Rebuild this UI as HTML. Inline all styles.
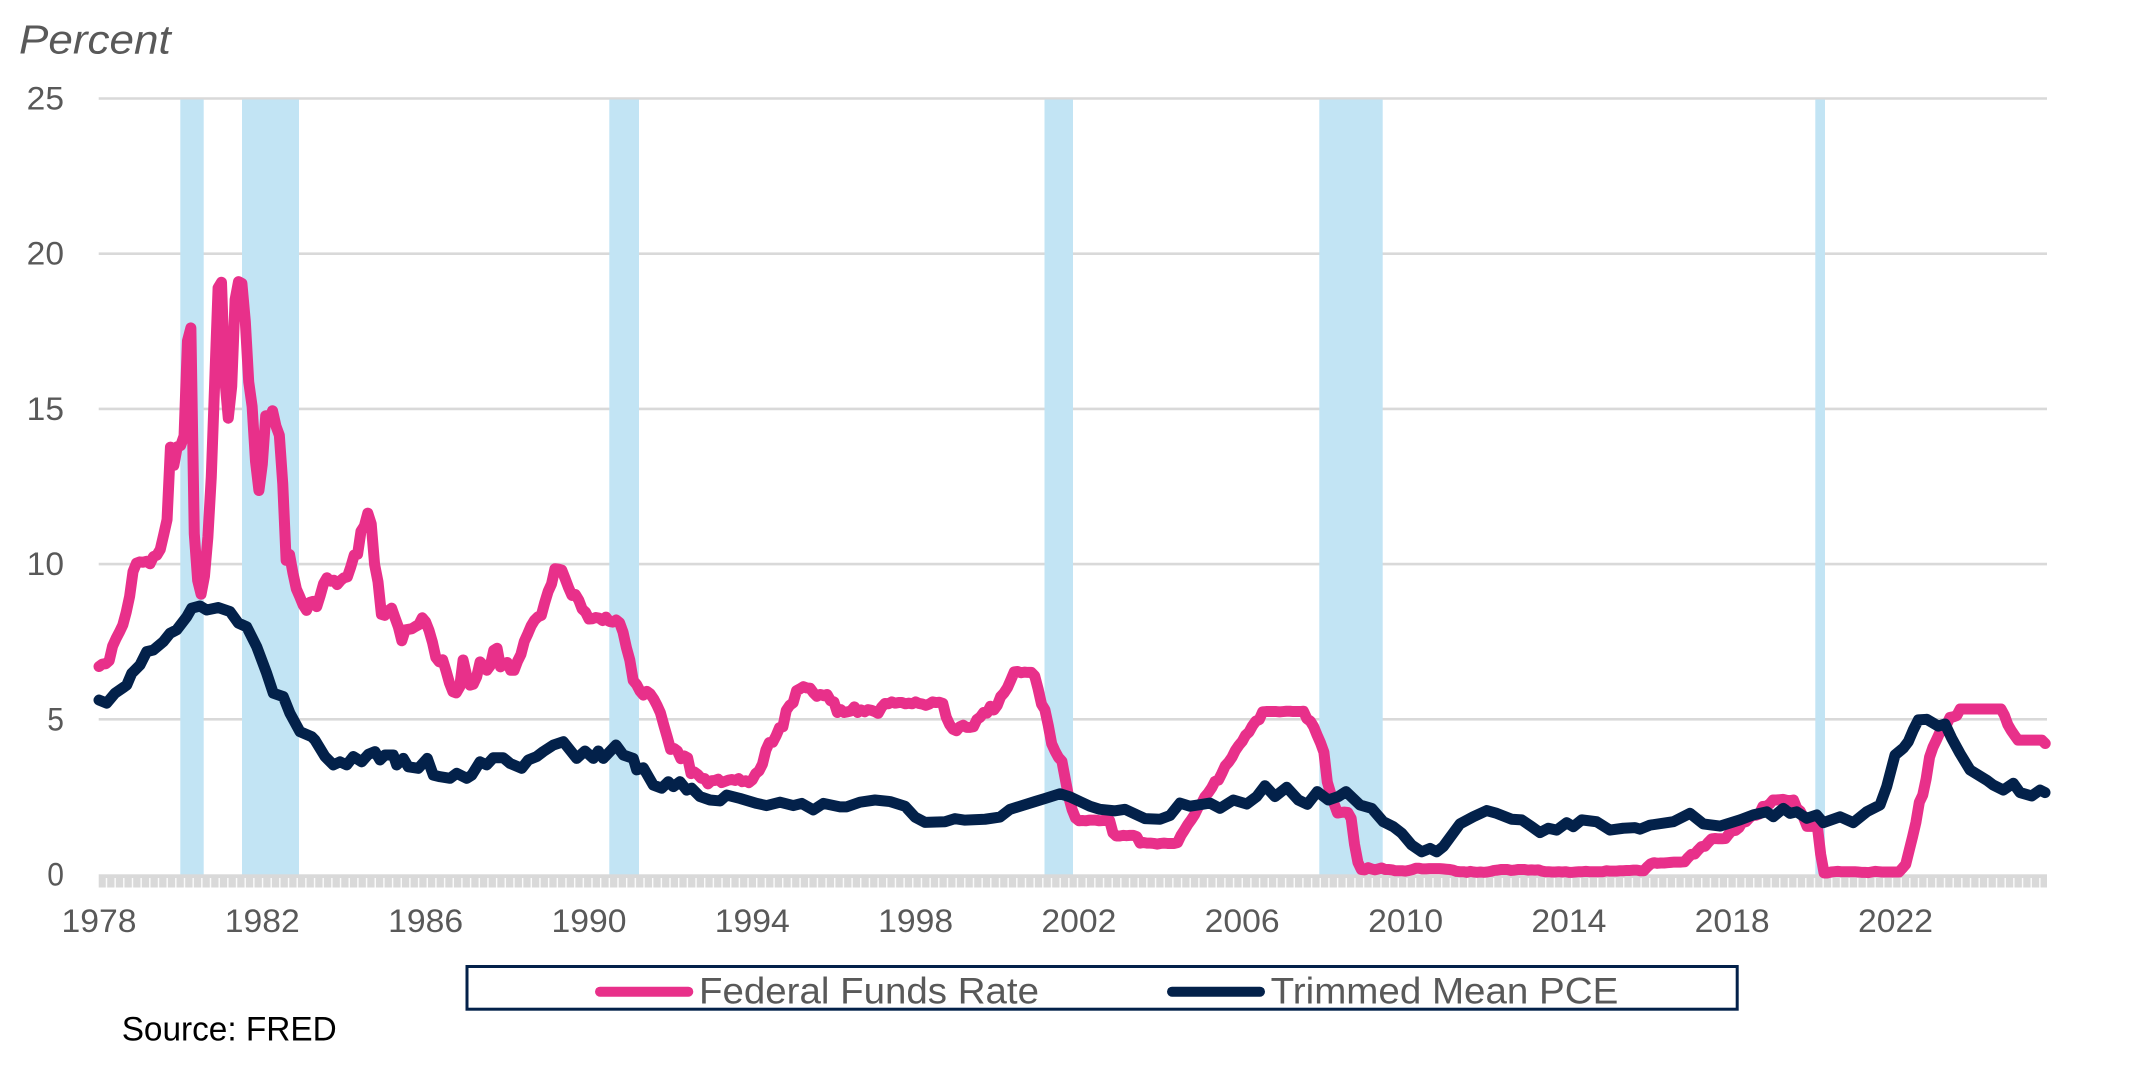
<!DOCTYPE html>
<html><head><meta charset="utf-8"><style>
html,body{margin:0;padding:0;background:#fff;}
svg{display:block;}
text{font-family:"Liberation Sans",Arial,sans-serif;}
</style></head><body>
<svg id="chart" width="2147" height="1084" viewBox="0 0 2147 1084" xmlns="http://www.w3.org/2000/svg">
<defs>
<pattern id="tk" x="97.1" y="0" width="8.67" height="40" patternUnits="userSpaceOnUse"><rect x="0" y="0" width="1.4" height="40" fill="#ffffff" fill-opacity="0.9"/></pattern>
</defs>
<rect width="2147" height="1084" fill="#fff"/>
<g stroke="#d9d9d9" stroke-width="2.6">
<line x1="98.7" y1="98.5" x2="2047" y2="98.5"/>
<line x1="98.7" y1="253.7" x2="2047" y2="253.7"/>
<line x1="98.7" y1="408.9" x2="2047" y2="408.9"/>
<line x1="98.7" y1="564.1" x2="2047" y2="564.1"/>
<line x1="98.7" y1="719.3" x2="2047" y2="719.3"/>
</g>
<g fill="#c2e4f4">
<rect x="180.3" y="99.5" width="23.4" height="775"/>
<rect x="242" y="99.5" width="57" height="775"/>
<rect x="609.3" y="99.5" width="29.7" height="775"/>
<rect x="1044.5" y="99.5" width="28.5" height="775"/>
<rect x="1319.3" y="99.5" width="63.4" height="775"/>
<rect x="1815.3" y="99.5" width="9.7" height="775"/>
</g>
<rect x="98.7" y="874.3" width="1948.3" height="13.2" fill="#d9d9d9"/>
<rect x="98.7" y="878" width="1948.3" height="9.5" fill="url(#tk)"/>
<g fill="#595959" font-size="32.5" text-anchor="end">
<text x="64" y="109.5" textLength="37.3" lengthAdjust="spacingAndGlyphs">25</text>
<text x="64" y="264.7" textLength="37.3" lengthAdjust="spacingAndGlyphs">20</text>
<text x="64" y="419.9" textLength="37.3" lengthAdjust="spacingAndGlyphs">15</text>
<text x="64" y="575.1" textLength="37.3" lengthAdjust="spacingAndGlyphs">10</text>
<text x="64" y="730.3" textLength="16.7" lengthAdjust="spacingAndGlyphs">5</text>
<text x="64" y="885.5" textLength="16.7" lengthAdjust="spacingAndGlyphs">0</text>
</g>
<g fill="#595959" font-size="32" text-anchor="middle">
<text x="99" y="932" textLength="75" lengthAdjust="spacingAndGlyphs">1978</text>
<text x="262.3" y="932" textLength="75" lengthAdjust="spacingAndGlyphs">1982</text>
<text x="425.6" y="932" textLength="75" lengthAdjust="spacingAndGlyphs">1986</text>
<text x="589" y="932" textLength="75" lengthAdjust="spacingAndGlyphs">1990</text>
<text x="752.3" y="932" textLength="75" lengthAdjust="spacingAndGlyphs">1994</text>
<text x="915.6" y="932" textLength="75" lengthAdjust="spacingAndGlyphs">1998</text>
<text x="1078.9" y="932" textLength="75" lengthAdjust="spacingAndGlyphs">2002</text>
<text x="1242.2" y="932" textLength="75" lengthAdjust="spacingAndGlyphs">2006</text>
<text x="1405.6" y="932" textLength="75" lengthAdjust="spacingAndGlyphs">2010</text>
<text x="1568.9" y="932" textLength="75" lengthAdjust="spacingAndGlyphs">2014</text>
<text x="1732.2" y="932" textLength="75" lengthAdjust="spacingAndGlyphs">2018</text>
<text x="1895.5" y="932" textLength="75" lengthAdjust="spacingAndGlyphs">2022</text>
</g>
<text x="19" y="53.5" fill="#595959" font-size="41" font-style="italic" textLength="151.7" lengthAdjust="spacingAndGlyphs">Percent</text>
<g transform="matrix(3.4025 0 0 -31.04 99 874.5)">
<polyline class="ser" fill="none" stroke="#e8308a" stroke-width="11" stroke-linejoin="round" stroke-linecap="round" vector-effect="non-scaling-stroke" points="0,6.70 1,6.78 2,6.79 3,6.89 4,7.36 5,7.60 6,7.81 7,8.04 8,8.45 9,8.96 10,9.76 11,10.03 12,10.07 13,10.06 14,10.09 15,10.01 16,10.24 17,10.29 18,10.47 19,10.94 20,11.43 21,13.77 22,13.18 23,13.78 24,13.82 25,14.13 26,17.19 27,17.61 28,10.98 29,9.47 30,9.03 31,9.61 32,10.87 33,12.81 34,15.85 35,18.90 36,19.08 37,15.93 38,14.70 39,15.72 40,18.52 41,19.10 42,19.04 43,17.82 44,15.87 45,15.08 46,13.31 47,12.37 48,13.22 49,14.78 50,14.68 51,14.94 52,14.45 53,14.15 54,12.59 55,10.12 56,10.31 57,9.71 58,9.20 59,8.95 60,8.68 61,8.51 62,8.77 63,8.80 64,8.63 65,8.98 66,9.37 67,9.56 68,9.45 69,9.48 70,9.34 71,9.47 72,9.56 73,9.59 74,9.91 75,10.29 76,10.32 77,11.06 78,11.23 79,11.64 80,11.30 81,9.99 82,9.43 83,8.38 84,8.35 85,8.50 86,8.58 87,8.27 88,7.97 89,7.53 90,7.88 91,7.90 92,7.92 93,7.99 94,8.05 95,8.27 96,8.14 97,7.86 98,7.48 99,6.99 100,6.85 101,6.92 102,6.56 103,6.17 104,5.89 105,5.85 106,6.04 107,6.91 108,6.43 109,6.10 110,6.13 111,6.37 112,6.85 113,6.73 114,6.58 115,6.73 116,7.22 117,7.29 118,6.69 119,6.77 120,6.83 121,6.58 122,6.58 123,6.87 124,7.09 125,7.51 126,7.75 127,8.01 128,8.19 129,8.30 130,8.35 131,8.76 132,9.12 133,9.36 134,9.85 135,9.84 136,9.81 137,9.53 138,9.24 139,8.99 140,9.02 141,8.84 142,8.55 143,8.45 144,8.23 145,8.24 146,8.28 147,8.26 148,8.18 149,8.29 150,8.15 151,8.13 152,8.20 153,8.11 154,7.81 155,7.31 156,6.91 157,6.25 158,6.12 159,5.91 160,5.78 161,5.90 162,5.82 163,5.66 164,5.45 165,5.21 166,4.81 167,4.43 168,4.03 169,4.06 170,3.98 171,3.73 172,3.82 173,3.76 174,3.25 175,3.30 176,3.22 177,3.10 178,3.09 179,2.92 180,3.02 181,3.03 182,3.07 183,2.96 184,3.00 185,3.04 186,3.06 187,3.03 188,3.09 189,2.99 190,3.02 191,2.96 192,3.05 193,3.25 194,3.34 195,3.56 196,4.01 197,4.25 198,4.26 199,4.47 200,4.73 201,4.76 202,5.29 203,5.45 204,5.53 205,5.92 206,5.98 207,6.05 208,6.01 209,6.00 210,5.85 211,5.74 212,5.80 213,5.76 214,5.80 215,5.60 216,5.56 217,5.22 218,5.31 219,5.22 220,5.24 221,5.27 222,5.40 223,5.22 224,5.30 225,5.24 226,5.31 227,5.29 228,5.25 229,5.19 230,5.39 231,5.51 232,5.50 233,5.56 234,5.52 235,5.54 236,5.54 237,5.50 238,5.52 239,5.50 240,5.56 241,5.51 242,5.49 243,5.45 244,5.49 245,5.56 246,5.54 247,5.55 248,5.51 249,5.07 250,4.83 251,4.68 252,4.63 253,4.76 254,4.81 255,4.74 256,4.74 257,4.76 258,4.99 259,5.07 260,5.22 261,5.20 262,5.42 263,5.30 264,5.45 265,5.73 266,5.85 267,6.02 268,6.27 269,6.53 270,6.54 271,6.50 272,6.52 273,6.51 274,6.51 275,6.40 276,5.98 277,5.49 278,5.31 279,4.80 280,4.21 281,3.97 282,3.77 283,3.65 284,3.07 285,2.49 286,2.09 287,1.82 288,1.73 289,1.74 290,1.73 291,1.75 292,1.75 293,1.75 294,1.73 295,1.74 296,1.75 297,1.75 298,1.34 299,1.24 300,1.24 301,1.26 302,1.25 303,1.26 304,1.26 305,1.22 306,1.01 307,1.03 308,1.01 309,1.01 310,1.00 311,0.98 312,1.00 313,1.01 314,1.00 315,1.00 316,1.00 317,1.03 318,1.26 319,1.43 320,1.61 321,1.76 322,1.93 323,2.16 324,2.28 325,2.50 326,2.63 327,2.79 328,3.00 329,3.04 330,3.26 331,3.50 332,3.62 333,3.78 334,4.00 335,4.16 336,4.29 337,4.49 338,4.59 339,4.79 340,4.94 341,4.99 342,5.24 343,5.25 344,5.25 345,5.25 346,5.25 347,5.24 348,5.25 349,5.26 350,5.26 351,5.25 352,5.25 353,5.25 354,5.26 355,5.02 356,4.94 357,4.76 358,4.49 359,4.24 360,3.94 361,2.98 362,2.61 363,2.28 364,1.98 365,2.00 366,2.01 367,2.00 368,1.81 369,0.97 370,0.39 371,0.16 372,0.15 373,0.22 374,0.18 375,0.15 376,0.18 377,0.21 378,0.16 379,0.16 380,0.15 381,0.12 382,0.12 383,0.12 384,0.11 385,0.13 386,0.16 387,0.20 388,0.20 389,0.18 390,0.18 391,0.19 392,0.19 393,0.19 394,0.19 395,0.18 396,0.17 397,0.16 398,0.14 399,0.10 400,0.09 401,0.09 402,0.07 403,0.10 404,0.08 405,0.07 406,0.08 407,0.07 408,0.08 409,0.10 410,0.13 411,0.14 412,0.16 413,0.16 414,0.16 415,0.13 416,0.14 417,0.16 418,0.16 419,0.16 420,0.14 421,0.15 422,0.14 423,0.15 424,0.11 425,0.09 426,0.09 427,0.08 428,0.08 429,0.09 430,0.08 431,0.09 432,0.07 433,0.07 434,0.08 435,0.09 436,0.09 437,0.10 438,0.09 439,0.09 440,0.09 441,0.09 442,0.09 443,0.12 444,0.11 445,0.11 446,0.11 447,0.12 448,0.12 449,0.13 450,0.13 451,0.14 452,0.14 453,0.12 454,0.12 455,0.24 456,0.34 457,0.38 458,0.36 459,0.37 460,0.37 461,0.38 462,0.39 463,0.40 464,0.40 465,0.40 466,0.41 467,0.54 468,0.65 469,0.66 470,0.79 471,0.90 472,0.91 473,1.04 474,1.15 475,1.16 476,1.15 477,1.15 478,1.16 479,1.30 480,1.41 481,1.42 482,1.51 483,1.69 484,1.70 485,1.82 486,1.91 487,1.91 488,1.95 489,2.19 490,2.20 491,2.27 492,2.40 493,2.40 494,2.41 495,2.42 496,2.39 497,2.38 498,2.40 499,2.13 500,2.04 501,1.83 502,1.55 503,1.55 504,1.55 505,1.58 506,0.65 507,0.05 508,0.05 509,0.08 510,0.09 511,0.10 512,0.09 513,0.09 514,0.09 515,0.09 516,0.09 517,0.08 518,0.07 519,0.07 520,0.06 521,0.08 522,0.10 523,0.09 524,0.08 525,0.08 526,0.08 527,0.08 528,0.08 529,0.08 530,0.20 531,0.33 532,0.77 533,1.21 534,1.68 535,2.33 536,2.56 537,3.08 538,3.78 539,4.10 540,4.33 541,4.57 542,4.65 543,4.83 544,5.06 545,5.08 546,5.12 547,5.33 548,5.33 549,5.33 550,5.33 551,5.33 552,5.33 553,5.33 554,5.33 555,5.33 556,5.33 557,5.33 558,5.33 559,5.33 560,5.13 561,4.83 562,4.64 563,4.48 564,4.33 565,4.33 566,4.33 567,4.33 568,4.33 569,4.33 570,4.33 571,4.33 572,4.22"/>
</g>
<g transform="matrix(1 0 0 -31.04 0 874.5)">
<polyline class="ser" fill="none" stroke="#03214a" stroke-width="11" stroke-linejoin="round" stroke-linecap="round" vector-effect="non-scaling-stroke" points="99,5.62 106.7,5.52 115,5.84 126.7,6.1 131.7,6.48 140,6.75 146.7,7.18 153.3,7.23 163.3,7.5 170,7.77 176.7,7.88 186.7,8.3 191.7,8.58 200,8.65 206.7,8.52 218.3,8.6 230,8.47 238.3,8.1 246.7,7.98 256.7,7.34 266.7,6.48 273.3,5.84 283.3,5.73 290,5.19 300,4.6 311.7,4.44 315,4.33 325,3.8 333.3,3.53 340,3.63 346.7,3.53 353.3,3.8 361.7,3.63 368.3,3.87 375,3.96 380,3.69 385,3.85 393.3,3.85 396.7,3.53 403.3,3.74 408.3,3.47 418.3,3.42 427.3,3.74 433.3,3.2 440,3.15 450,3.1 456.7,3.26 466.7,3.1 471.7,3.2 480,3.63 486.7,3.53 493.3,3.76 503.3,3.76 510,3.58 521.7,3.42 528.3,3.69 536.7,3.8 543.3,3.96 553.3,4.17 563.3,4.28 570,4.01 576.7,3.74 585,3.98 593.3,3.74 598.3,3.98 603.3,3.74 616,4.17 623.3,3.85 633.3,3.74 636.7,3.37 643.3,3.44 653.3,2.88 661.7,2.78 668.3,2.99 673.3,2.83 680,2.99 686.7,2.72 691.7,2.78 700,2.51 710,2.4 720,2.37 726.7,2.56 740,2.45 756.7,2.29 766.7,2.22 780,2.33 793.3,2.22 801.7,2.29 813.3,2.08 823.3,2.29 840,2.18 846.7,2.18 860,2.33 875,2.4 890,2.35 905,2.2 915,1.85 925,1.68 945,1.7 955,1.8 965,1.75 985,1.78 1000,1.85 1010,2.1 1020,2.2 1035,2.35 1045,2.45 1060,2.6 1070,2.5 1080,2.35 1090,2.2 1100,2.1 1115,2.05 1125,2.1 1135,1.95 1145,1.8 1160,1.78 1170,1.9 1180,2.3 1190,2.2 1200,2.25 1210,2.3 1220,2.13 1233.3,2.4 1246.7,2.27 1256.7,2.51 1265,2.86 1275,2.51 1286.7,2.81 1298.3,2.4 1307.3,2.26 1317.3,2.67 1328.3,2.4 1338.3,2.51 1346,2.67 1360,2.24 1371.7,2.13 1383.3,1.7 1393.3,1.54 1401.7,1.33 1411.7,0.95 1421.7,0.73 1430,0.84 1436.7,0.73 1443.3,0.9 1460,1.63 1473.3,1.86 1486.7,2.06 1496.7,1.97 1511.7,1.78 1521.7,1.76 1531.7,1.54 1540,1.35 1548.3,1.49 1556.7,1.43 1566.7,1.67 1573.3,1.54 1581.7,1.76 1596.7,1.7 1610,1.43 1623.3,1.49 1635,1.51 1640,1.46 1650,1.59 1673.3,1.7 1690,1.97 1703.3,1.63 1720,1.56 1740,1.76 1753.3,1.92 1766.7,2.02 1773.3,1.86 1783.3,2.13 1790,1.97 1796.7,2.02 1806.7,1.81 1816.7,1.92 1823.3,1.67 1840,1.86 1853.3,1.67 1866.7,2.02 1873.3,2.13 1880,2.24 1886.7,2.83 1895,3.85 1903.3,4.07 1908.3,4.28 1913.3,4.66 1918.3,4.98 1926.7,5.0 1938.3,4.78 1945,4.85 1951.7,4.39 1960,3.9 1970,3.37 1986.7,3.04 1993.3,2.88 2003.3,2.72 2013.3,2.94 2020,2.64 2031.7,2.53 2040,2.72 2045,2.64"/>
</g>
<rect x="467" y="966.5" width="1270.2" height="42.7" fill="none" stroke="#03214a" stroke-width="3"/>
<line x1="600" y1="991.7" x2="688.3" y2="991.7" stroke="#e8308a" stroke-width="10" stroke-linecap="round"/>
<text x="699" y="1003.3" fill="#595959" font-size="37" textLength="340" lengthAdjust="spacingAndGlyphs">Federal Funds Rate</text>
<line x1="1172" y1="991.7" x2="1260" y2="991.7" stroke="#03214a" stroke-width="10" stroke-linecap="round"/>
<text x="1270.7" y="1003.3" fill="#595959" font-size="37" textLength="347.6" lengthAdjust="spacingAndGlyphs">Trimmed Mean PCE</text>
<text x="121.7" y="1040.7" fill="#000" font-size="34" textLength="215" lengthAdjust="spacingAndGlyphs">Source: FRED</text>
</svg>
<script>
(function(){
  try {
    var pls = document.querySelectorAll('polyline.ser');
    for (var i = 0; i < pls.length; i++) {
      var pl = pls[i];
      var g = pl.parentNode;
      var tr = g.getAttribute('transform');
      var mm = /matrix\(([^)]*)\)/.exec(tr);
      if (!mm) continue;
      var p = mm[1].trim().split(/[\s,]+/).map(parseFloat);
      var a = p[0], d = p[3], e = p[4], f = p[5];
      var raw = pl.getAttribute('points').trim().split(/\s+/);
      var out = [];
      for (var k = 0; k < raw.length; k++) {
        var xy = raw[k].split(',');
        var x = a * parseFloat(xy[0]) + e;
        var y = d * parseFloat(xy[1]) + f;
        out.push(x.toFixed(2) + ',' + y.toFixed(2));
      }
      pl.setAttribute('points', out.join(' '));
      pl.removeAttribute('vector-effect');
      g.removeAttribute('transform');
    }
  } catch (err) {}
})();
</script>
</body></html>
